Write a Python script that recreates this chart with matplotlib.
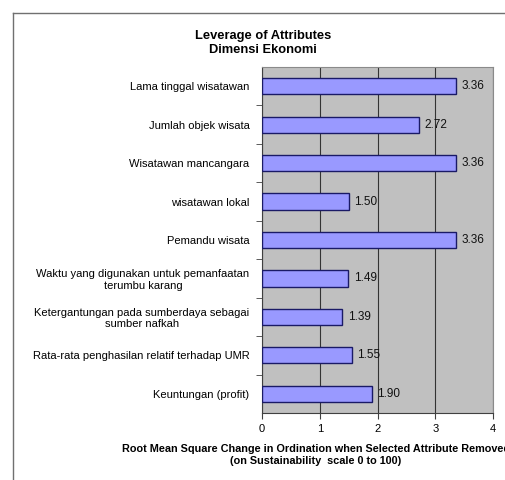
import matplotlib
matplotlib.use("Agg")
import matplotlib.pyplot as plt
from matplotlib.lines import Line2D

plt.rcParams['font.family'] = ['Liberation Sans', 'DejaVu Sans']

attributes = [
    "Lama tinggal wisatawan",
    "Jumlah objek wisata",
    "Wisatawan mancangara",
    "wisatawan lokal",
    "Pemandu wisata",
    "Waktu yang digunakan untuk pemanfaatan\nterumbu karang",
    "Ketergantungan pada sumberdaya sebagai\nsumber nafkah",
    "Rata-rata penghasilan relatif terhadap UMR",
    "Keuntungan (profit)",
]
leverage = [3.36, 2.72, 3.36, 1.50, 3.36, 1.49, 1.39, 1.55, 1.90]
x_ticks = [0, 1, 2, 3, 4]

fig = plt.figure(figsize=(5.05, 4.8), dpi=100)
ax = fig.add_axes([262 / 505, 1 - 413 / 480, 231 / 505, 346 / 480])

pos = list(range(len(attributes)))
ax.set_facecolor("#c0c0c0")
ax.barh(pos, leverage, height=0.42, color="#9999ff", edgecolor="#1a1a66",
        linewidth=1.0, zorder=3)
for p, v in zip(pos, leverage):
    ax.text(v + 0.1, p, f"{v:.2f}", va="center", ha="left", fontsize=8.5,
            color="#111111", zorder=4)

ax.set_xlim(0, 4)
ax.set_ylim(len(attributes) - 0.5, -0.5)
ax.set_xticks(x_ticks)
ax.set_xticklabels([str(t) for t in x_ticks], fontsize=8)
ax.set_yticks(pos)
ax.set_yticklabels(attributes, fontsize=8, multialignment="center")
ax.set_yticks([p + 0.5 for p in pos[:-1]], minor=True)
ax.tick_params(axis="y", which="major", length=0, pad=9)
ax.tick_params(axis="y", which="minor", length=4, color="#404040")
ax.tick_params(axis="x", length=4, color="#404040", pad=4)
ax.xaxis.grid(True, color="#333333", linewidth=0.8, zorder=1)
ax.set_axisbelow(True)

for side in ["top", "right"]:
    ax.spines[side].set_color("#8a8a8a")
for side in ["left", "bottom"]:
    ax.spines[side].set_color("#404040")

fig.text(263 / 505, 1 - 43 / 480, "Leverage of Attributes\nDimensi Ekonomi",
         ha="center", va="center", fontsize=9.3, fontweight="bold",
         linespacing=1.2)
fig.text(316 / 505, 1 - 455 / 480,
         "Root Mean Square Change in Ordination when Selected Attribute Removed\n"
         "(on Sustainability  scale 0 to 100)",
         ha="center", va="center", fontsize=7.8, fontweight="bold",
         linespacing=1.3)

# outer chart border
fig.add_artist(Line2D([13 / 505, 1], [1 - 13 / 480, 1 - 13 / 480],
                      transform=fig.transFigure, color="#707070", linewidth=1))
fig.add_artist(Line2D([13 / 505, 13 / 505], [0, 1 - 13 / 480],
                      transform=fig.transFigure, color="#707070", linewidth=1))

fig.savefig("out.png", dpi=100)
